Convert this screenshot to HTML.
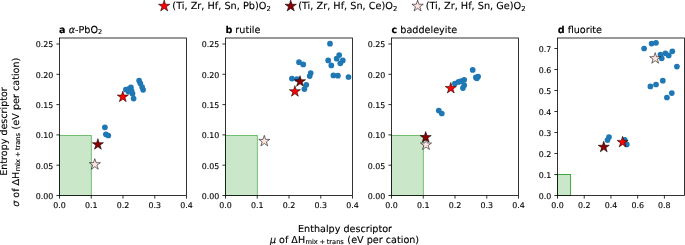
<!DOCTYPE html>
<html><head><meta charset="utf-8"><title>figure</title>
<style>html,body{margin:0;padding:0;background:#fff}svg{display:block;will-change:transform}text{font-family:"DejaVu Sans","Liberation Sans",sans-serif;fill:#000;stroke:#000;stroke-width:0.12px;text-rendering:geometricPrecision}</style>
</head><body>
<svg width="685" height="245" viewBox="0 0 685 245">
<rect width="685" height="245" fill="#fff"/>
<rect x="59.50" y="135.35" width="31.75" height="60.15" fill="#2ca02c" fill-opacity="0.25" stroke="#2ca02c" stroke-opacity="0.95" stroke-width="0.65"/>
<circle cx="139.1" cy="80.5" r="2.85" fill="#1f77b4"/>
<circle cx="140.3" cy="83.3" r="2.85" fill="#1f77b4"/>
<circle cx="142.1" cy="87.1" r="2.85" fill="#1f77b4"/>
<circle cx="143.1" cy="89.8" r="2.85" fill="#1f77b4"/>
<circle cx="130.9" cy="87.4" r="2.85" fill="#1f77b4"/>
<circle cx="125.9" cy="89.5" r="2.85" fill="#1f77b4"/>
<circle cx="128.4" cy="89.2" r="2.85" fill="#1f77b4"/>
<circle cx="128.4" cy="91.6" r="2.85" fill="#1f77b4"/>
<circle cx="131.6" cy="90.8" r="2.85" fill="#1f77b4"/>
<circle cx="132.5" cy="93.7" r="2.85" fill="#1f77b4"/>
<circle cx="133.6" cy="98.6" r="2.85" fill="#1f77b4"/>
<circle cx="104.9" cy="127.3" r="2.85" fill="#1f77b4"/>
<circle cx="105.9" cy="134.3" r="2.85" fill="#1f77b4"/>
<circle cx="108.3" cy="135.5" r="2.85" fill="#1f77b4"/>
<polygon points="94.80,158.65 96.11,162.69 100.36,162.69 96.93,165.19 98.24,169.23 94.80,166.73 91.36,169.23 92.67,165.19 89.24,162.69 93.49,162.69" fill="#ffe4e1" stroke="#000" stroke-width="0.55" stroke-linejoin="miter"/>
<polygon points="97.90,138.65 99.21,142.69 103.46,142.69 100.03,145.19 101.34,149.23 97.90,146.73 94.46,149.23 95.77,145.19 92.34,142.69 96.59,142.69" fill="#8b0000" stroke="#000" stroke-width="0.55" stroke-linejoin="miter"/>
<polygon points="122.80,91.05 124.11,95.09 128.36,95.09 124.93,97.59 126.24,101.63 122.80,99.13 119.36,101.63 120.67,97.59 117.24,95.09 121.49,95.09" fill="#ff0000" stroke="#000" stroke-width="0.55" stroke-linejoin="miter"/>
<rect x="59.50" y="38.00" width="127.00" height="157.50" fill="none" stroke="#000" stroke-width="0.8"/>
<line x1="59.50" y1="195.50" x2="59.50" y2="198.60" stroke="#000" stroke-width="0.8"/>
<text x="59.50" y="207.75" font-size="7.9" text-anchor="middle">0.0</text>
<line x1="91.25" y1="195.50" x2="91.25" y2="198.60" stroke="#000" stroke-width="0.8"/>
<text x="91.25" y="207.75" font-size="7.9" text-anchor="middle">0.1</text>
<line x1="123.00" y1="195.50" x2="123.00" y2="198.60" stroke="#000" stroke-width="0.8"/>
<text x="123.00" y="207.75" font-size="7.9" text-anchor="middle">0.2</text>
<line x1="154.75" y1="195.50" x2="154.75" y2="198.60" stroke="#000" stroke-width="0.8"/>
<text x="154.75" y="207.75" font-size="7.9" text-anchor="middle">0.3</text>
<line x1="186.50" y1="195.50" x2="186.50" y2="198.60" stroke="#000" stroke-width="0.8"/>
<text x="186.50" y="207.75" font-size="7.9" text-anchor="middle">0.4</text>
<line x1="56.40" y1="195.50" x2="59.50" y2="195.50" stroke="#000" stroke-width="0.8"/>
<text x="53.30" y="198.80" font-size="7.9" text-anchor="end">0.00</text>
<line x1="56.40" y1="165.20" x2="59.50" y2="165.20" stroke="#000" stroke-width="0.8"/>
<text x="53.30" y="168.50" font-size="7.9" text-anchor="end">0.05</text>
<line x1="56.40" y1="134.90" x2="59.50" y2="134.90" stroke="#000" stroke-width="0.8"/>
<text x="53.30" y="138.20" font-size="7.9" text-anchor="end">0.10</text>
<line x1="56.40" y1="104.60" x2="59.50" y2="104.60" stroke="#000" stroke-width="0.8"/>
<text x="53.30" y="107.90" font-size="7.9" text-anchor="end">0.15</text>
<line x1="56.40" y1="74.30" x2="59.50" y2="74.30" stroke="#000" stroke-width="0.8"/>
<text x="53.30" y="77.60" font-size="7.9" text-anchor="end">0.20</text>
<line x1="56.40" y1="44.00" x2="59.50" y2="44.00" stroke="#000" stroke-width="0.8"/>
<text x="53.30" y="47.30" font-size="7.9" text-anchor="end">0.25</text>
<text x="59.10" y="32.8" font-size="9.65"><tspan font-weight="bold">a</tspan> <tspan font-style="italic">α</tspan>-PbO<tspan font-size="6.7" dy="1.6">2</tspan></text>
<rect x="225.50" y="135.35" width="31.75" height="60.15" fill="#2ca02c" fill-opacity="0.25" stroke="#2ca02c" stroke-opacity="0.95" stroke-width="0.65"/>
<circle cx="330.0" cy="43.7" r="2.85" fill="#1f77b4"/>
<circle cx="339.2" cy="55.1" r="2.85" fill="#1f77b4"/>
<circle cx="336.7" cy="58.7" r="2.85" fill="#1f77b4"/>
<circle cx="342.8" cy="60.4" r="2.85" fill="#1f77b4"/>
<circle cx="340.3" cy="63.3" r="2.85" fill="#1f77b4"/>
<circle cx="328.2" cy="60.4" r="2.85" fill="#1f77b4"/>
<circle cx="331.3" cy="65.4" r="2.85" fill="#1f77b4"/>
<circle cx="299.0" cy="62.2" r="2.85" fill="#1f77b4"/>
<circle cx="303.2" cy="64.4" r="2.85" fill="#1f77b4"/>
<circle cx="310.7" cy="73.0" r="2.85" fill="#1f77b4"/>
<circle cx="309.7" cy="76.1" r="2.85" fill="#1f77b4"/>
<circle cx="333.4" cy="75.4" r="2.85" fill="#1f77b4"/>
<circle cx="337.9" cy="75.7" r="2.85" fill="#1f77b4"/>
<circle cx="348.5" cy="77.0" r="2.85" fill="#1f77b4"/>
<circle cx="291.9" cy="78.6" r="2.85" fill="#1f77b4"/>
<circle cx="296.9" cy="79.0" r="2.85" fill="#1f77b4"/>
<circle cx="306.3" cy="84.8" r="2.85" fill="#1f77b4"/>
<circle cx="304.4" cy="89.1" r="2.85" fill="#1f77b4"/>
<polygon points="264.30,135.35 265.61,139.39 269.86,139.39 266.43,141.89 267.74,145.93 264.30,143.43 260.86,145.93 262.17,141.89 258.74,139.39 262.99,139.39" fill="#ffe4e1" stroke="#000" stroke-width="0.55" stroke-linejoin="miter"/>
<polygon points="294.90,85.65 296.21,89.69 300.46,89.69 297.03,92.19 298.34,96.23 294.90,93.73 291.46,96.23 292.77,92.19 289.34,89.69 293.59,89.69" fill="#ff0000" stroke="#000" stroke-width="0.55" stroke-linejoin="miter"/>
<polygon points="300.00,75.65 301.31,79.69 305.56,79.69 302.13,82.19 303.44,86.23 300.00,83.73 296.56,86.23 297.87,82.19 294.44,79.69 298.69,79.69" fill="#8b0000" stroke="#000" stroke-width="0.55" stroke-linejoin="miter"/>
<rect x="225.50" y="38.00" width="127.00" height="157.50" fill="none" stroke="#000" stroke-width="0.8"/>
<line x1="225.50" y1="195.50" x2="225.50" y2="198.60" stroke="#000" stroke-width="0.8"/>
<text x="225.50" y="207.75" font-size="7.9" text-anchor="middle">0.0</text>
<line x1="257.25" y1="195.50" x2="257.25" y2="198.60" stroke="#000" stroke-width="0.8"/>
<text x="257.25" y="207.75" font-size="7.9" text-anchor="middle">0.1</text>
<line x1="289.00" y1="195.50" x2="289.00" y2="198.60" stroke="#000" stroke-width="0.8"/>
<text x="289.00" y="207.75" font-size="7.9" text-anchor="middle">0.2</text>
<line x1="320.75" y1="195.50" x2="320.75" y2="198.60" stroke="#000" stroke-width="0.8"/>
<text x="320.75" y="207.75" font-size="7.9" text-anchor="middle">0.3</text>
<line x1="352.50" y1="195.50" x2="352.50" y2="198.60" stroke="#000" stroke-width="0.8"/>
<text x="352.50" y="207.75" font-size="7.9" text-anchor="middle">0.4</text>
<line x1="222.40" y1="195.50" x2="225.50" y2="195.50" stroke="#000" stroke-width="0.8"/>
<text x="219.30" y="198.80" font-size="7.9" text-anchor="end">0.00</text>
<line x1="222.40" y1="165.20" x2="225.50" y2="165.20" stroke="#000" stroke-width="0.8"/>
<text x="219.30" y="168.50" font-size="7.9" text-anchor="end">0.05</text>
<line x1="222.40" y1="134.90" x2="225.50" y2="134.90" stroke="#000" stroke-width="0.8"/>
<text x="219.30" y="138.20" font-size="7.9" text-anchor="end">0.10</text>
<line x1="222.40" y1="104.60" x2="225.50" y2="104.60" stroke="#000" stroke-width="0.8"/>
<text x="219.30" y="107.90" font-size="7.9" text-anchor="end">0.15</text>
<line x1="222.40" y1="74.30" x2="225.50" y2="74.30" stroke="#000" stroke-width="0.8"/>
<text x="219.30" y="77.60" font-size="7.9" text-anchor="end">0.20</text>
<line x1="222.40" y1="44.00" x2="225.50" y2="44.00" stroke="#000" stroke-width="0.8"/>
<text x="219.30" y="47.30" font-size="7.9" text-anchor="end">0.25</text>
<text x="225.40" y="32.8" font-size="9.65"><tspan font-weight="bold">b</tspan> rutile</text>
<rect x="391.50" y="135.35" width="31.75" height="60.15" fill="#2ca02c" fill-opacity="0.25" stroke="#2ca02c" stroke-opacity="0.95" stroke-width="0.65"/>
<circle cx="472.7" cy="69.9" r="2.85" fill="#1f77b4"/>
<circle cx="475.9" cy="77.4" r="2.85" fill="#1f77b4"/>
<circle cx="478.1" cy="76.6" r="2.85" fill="#1f77b4"/>
<circle cx="476.9" cy="78.3" r="2.85" fill="#1f77b4"/>
<circle cx="464.2" cy="79.8" r="2.85" fill="#1f77b4"/>
<circle cx="461.2" cy="81.1" r="2.85" fill="#1f77b4"/>
<circle cx="458.5" cy="81.9" r="2.85" fill="#1f77b4"/>
<circle cx="454.9" cy="83.6" r="2.85" fill="#1f77b4"/>
<circle cx="464.2" cy="85.2" r="2.85" fill="#1f77b4"/>
<circle cx="462.9" cy="88.1" r="2.85" fill="#1f77b4"/>
<circle cx="438.8" cy="110.6" r="2.85" fill="#1f77b4"/>
<circle cx="441.8" cy="113.5" r="2.85" fill="#1f77b4"/>
<polygon points="426.00,138.95 427.31,142.99 431.56,142.99 428.13,145.49 429.44,149.53 426.00,147.03 422.56,149.53 423.87,145.49 420.44,142.99 424.69,142.99" fill="#ffe4e1" stroke="#000" stroke-width="0.55" stroke-linejoin="miter"/>
<polygon points="425.70,131.55 427.01,135.59 431.26,135.59 427.83,138.09 429.14,142.13 425.70,139.63 422.26,142.13 423.57,138.09 420.14,135.59 424.39,135.59" fill="#8b0000" stroke="#000" stroke-width="0.55" stroke-linejoin="miter"/>
<polygon points="450.80,82.45 452.11,86.49 456.36,86.49 452.93,88.99 454.24,93.03 450.80,90.53 447.36,93.03 448.67,88.99 445.24,86.49 449.49,86.49" fill="#ff0000" stroke="#000" stroke-width="0.55" stroke-linejoin="miter"/>
<rect x="391.50" y="38.00" width="127.00" height="157.50" fill="none" stroke="#000" stroke-width="0.8"/>
<line x1="391.50" y1="195.50" x2="391.50" y2="198.60" stroke="#000" stroke-width="0.8"/>
<text x="391.50" y="207.75" font-size="7.9" text-anchor="middle">0.0</text>
<line x1="423.25" y1="195.50" x2="423.25" y2="198.60" stroke="#000" stroke-width="0.8"/>
<text x="423.25" y="207.75" font-size="7.9" text-anchor="middle">0.1</text>
<line x1="455.00" y1="195.50" x2="455.00" y2="198.60" stroke="#000" stroke-width="0.8"/>
<text x="455.00" y="207.75" font-size="7.9" text-anchor="middle">0.2</text>
<line x1="486.75" y1="195.50" x2="486.75" y2="198.60" stroke="#000" stroke-width="0.8"/>
<text x="486.75" y="207.75" font-size="7.9" text-anchor="middle">0.3</text>
<line x1="518.50" y1="195.50" x2="518.50" y2="198.60" stroke="#000" stroke-width="0.8"/>
<text x="518.50" y="207.75" font-size="7.9" text-anchor="middle">0.4</text>
<line x1="388.40" y1="195.50" x2="391.50" y2="195.50" stroke="#000" stroke-width="0.8"/>
<text x="385.30" y="198.80" font-size="7.9" text-anchor="end">0.00</text>
<line x1="388.40" y1="165.20" x2="391.50" y2="165.20" stroke="#000" stroke-width="0.8"/>
<text x="385.30" y="168.50" font-size="7.9" text-anchor="end">0.05</text>
<line x1="388.40" y1="134.90" x2="391.50" y2="134.90" stroke="#000" stroke-width="0.8"/>
<text x="385.30" y="138.20" font-size="7.9" text-anchor="end">0.10</text>
<line x1="388.40" y1="104.60" x2="391.50" y2="104.60" stroke="#000" stroke-width="0.8"/>
<text x="385.30" y="107.90" font-size="7.9" text-anchor="end">0.15</text>
<line x1="388.40" y1="74.30" x2="391.50" y2="74.30" stroke="#000" stroke-width="0.8"/>
<text x="385.30" y="77.60" font-size="7.9" text-anchor="end">0.20</text>
<line x1="388.40" y1="44.00" x2="391.50" y2="44.00" stroke="#000" stroke-width="0.8"/>
<text x="385.30" y="47.30" font-size="7.9" text-anchor="end">0.25</text>
<text x="391.55" y="32.8" font-size="9.65"><tspan font-weight="bold">c</tspan> baddeleyite</text>
<rect x="557.50" y="174.50" width="13.11" height="21.00" fill="#2ca02c" fill-opacity="0.25" stroke="#2ca02c" stroke-opacity="1.0" stroke-width="0.9"/>
<circle cx="651.6" cy="43.6" r="2.85" fill="#1f77b4"/>
<circle cx="656.0" cy="42.8" r="2.85" fill="#1f77b4"/>
<circle cx="644.1" cy="48.5" r="2.85" fill="#1f77b4"/>
<circle cx="672.3" cy="51.3" r="2.85" fill="#1f77b4"/>
<circle cx="665.4" cy="53.3" r="2.85" fill="#1f77b4"/>
<circle cx="660.5" cy="54.6" r="2.85" fill="#1f77b4"/>
<circle cx="668.7" cy="55.4" r="2.85" fill="#1f77b4"/>
<circle cx="661.7" cy="58.3" r="2.85" fill="#1f77b4"/>
<circle cx="676.9" cy="66.6" r="2.85" fill="#1f77b4"/>
<circle cx="662.8" cy="80.7" r="2.85" fill="#1f77b4"/>
<circle cx="656.0" cy="84.5" r="2.85" fill="#1f77b4"/>
<circle cx="650.4" cy="86.4" r="2.85" fill="#1f77b4"/>
<circle cx="671.8" cy="93.1" r="2.85" fill="#1f77b4"/>
<circle cx="666.9" cy="97.5" r="2.85" fill="#1f77b4"/>
<circle cx="609.0" cy="137.0" r="2.85" fill="#1f77b4"/>
<circle cx="607.5" cy="140.1" r="2.85" fill="#1f77b4"/>
<circle cx="624.7" cy="139.9" r="2.85" fill="#1f77b4"/>
<circle cx="626.8" cy="144.4" r="2.85" fill="#1f77b4"/>
<polygon points="655.20,52.65 656.51,56.69 660.76,56.69 657.33,59.19 658.64,63.23 655.20,60.73 651.76,63.23 653.07,59.19 649.64,56.69 653.89,56.69" fill="#ffe4e1" stroke="#000" stroke-width="0.55" stroke-linejoin="miter"/>
<polygon points="603.75,141.25 605.06,145.29 609.31,145.29 605.88,147.79 607.19,151.83 603.75,149.33 600.31,151.83 601.62,147.79 598.19,145.29 602.44,145.29" fill="#8b0000" stroke="#000" stroke-width="0.55" stroke-linejoin="miter"/>
<polygon points="622.60,136.35 623.91,140.39 628.16,140.39 624.73,142.89 626.04,146.93 622.60,144.43 619.16,146.93 620.47,142.89 617.04,140.39 621.29,140.39" fill="#ff0000" stroke="#000" stroke-width="0.55" stroke-linejoin="miter"/>
<rect x="557.50" y="38.00" width="127.00" height="157.50" fill="none" stroke="#000" stroke-width="0.8"/>
<line x1="557.50" y1="195.50" x2="557.50" y2="198.60" stroke="#000" stroke-width="0.8"/>
<text x="557.50" y="207.75" font-size="7.9" text-anchor="middle">0.0</text>
<line x1="584.22" y1="195.50" x2="584.22" y2="198.60" stroke="#000" stroke-width="0.8"/>
<text x="584.22" y="207.75" font-size="7.9" text-anchor="middle">0.2</text>
<line x1="610.94" y1="195.50" x2="610.94" y2="198.60" stroke="#000" stroke-width="0.8"/>
<text x="610.94" y="207.75" font-size="7.9" text-anchor="middle">0.4</text>
<line x1="637.66" y1="195.50" x2="637.66" y2="198.60" stroke="#000" stroke-width="0.8"/>
<text x="637.66" y="207.75" font-size="7.9" text-anchor="middle">0.6</text>
<line x1="664.38" y1="195.50" x2="664.38" y2="198.60" stroke="#000" stroke-width="0.8"/>
<text x="664.38" y="207.75" font-size="7.9" text-anchor="middle">0.8</text>
<line x1="554.40" y1="195.50" x2="557.50" y2="195.50" stroke="#000" stroke-width="0.8"/>
<text x="551.30" y="198.80" font-size="7.9" text-anchor="end">0.0</text>
<line x1="554.40" y1="174.50" x2="557.50" y2="174.50" stroke="#000" stroke-width="0.8"/>
<text x="551.30" y="177.80" font-size="7.9" text-anchor="end">0.1</text>
<line x1="554.40" y1="153.50" x2="557.50" y2="153.50" stroke="#000" stroke-width="0.8"/>
<text x="551.30" y="156.80" font-size="7.9" text-anchor="end">0.2</text>
<line x1="554.40" y1="132.50" x2="557.50" y2="132.50" stroke="#000" stroke-width="0.8"/>
<text x="551.30" y="135.80" font-size="7.9" text-anchor="end">0.3</text>
<line x1="554.40" y1="111.50" x2="557.50" y2="111.50" stroke="#000" stroke-width="0.8"/>
<text x="551.30" y="114.80" font-size="7.9" text-anchor="end">0.4</text>
<line x1="554.40" y1="90.50" x2="557.50" y2="90.50" stroke="#000" stroke-width="0.8"/>
<text x="551.30" y="93.80" font-size="7.9" text-anchor="end">0.5</text>
<line x1="554.40" y1="69.50" x2="557.50" y2="69.50" stroke="#000" stroke-width="0.8"/>
<text x="551.30" y="72.80" font-size="7.9" text-anchor="end">0.6</text>
<line x1="554.40" y1="48.50" x2="557.50" y2="48.50" stroke="#000" stroke-width="0.8"/>
<text x="551.30" y="51.80" font-size="7.9" text-anchor="end">0.7</text>
<text x="557.70" y="32.8" font-size="9.65"><tspan font-weight="bold">d</tspan> fluorite</text>
<polygon points="164.20,0.10 165.55,4.25 169.91,4.25 166.38,6.81 167.73,10.95 164.20,8.39 160.67,10.95 162.02,6.81 158.49,4.25 162.85,4.25" fill="#ff0000" stroke="#000" stroke-width="0.55" stroke-linejoin="miter"/>
<text x="172.35" y="9.0" font-size="9.72">(Ti, Zr, Hf, Sn, Pb)O<tspan font-size="6.8" dy="1.9">2</tspan></text>
<polygon points="290.70,0.10 292.05,4.25 296.41,4.25 292.88,6.81 294.23,10.95 290.70,8.39 287.17,10.95 288.52,6.81 284.99,4.25 289.35,4.25" fill="#8b0000" stroke="#000" stroke-width="0.55" stroke-linejoin="miter"/>
<text x="298.20" y="9.0" font-size="9.72">(Ti, Zr, Hf, Sn, Ce)O<tspan font-size="6.8" dy="1.9">2</tspan></text>
<polygon points="417.60,0.10 418.95,4.25 423.31,4.25 419.78,6.81 421.13,10.95 417.60,8.39 414.07,10.95 415.42,6.81 411.89,4.25 416.25,4.25" fill="#ffe4e1" stroke="#000" stroke-width="0.55" stroke-linejoin="miter"/>
<text x="425.70" y="9.0" font-size="9.72">(Ti, Zr, Hf, Sn, Ge)O<tspan font-size="6.8" dy="1.9">2</tspan></text>
<text x="345.0" y="231.9" font-size="9.62" text-anchor="middle">Enthalpy descriptor</text>
<text x="270.0" y="242.9" font-size="9.55"><tspan font-style="italic">μ</tspan> of ΔH<tspan font-size="6.7" dy="1.1" dx="0.35">mix</tspan><tspan font-size="6.7" dx="1.8">+</tspan><tspan font-size="6.7" dx="1.5">trans</tspan><tspan dy="-1.1" dx="0.45" font-size="9.65"> (eV per cation)</tspan></text>
<text transform="translate(6.8,131.5) rotate(-90)" font-size="9.55" text-anchor="middle">Entropy descriptor</text>
<text transform="translate(19.0,206.75) rotate(-90)" font-size="9.55"><tspan font-style="italic">σ</tspan> of ΔH<tspan font-size="6.7" dy="1.1" dx="0.35">mix</tspan><tspan font-size="6.7" dx="1.8">+</tspan><tspan font-size="6.7" dx="1.5">trans</tspan><tspan dy="-1.1" dx="0.45" font-size="9.65"> (eV per cation)</tspan></text>
</svg>
</body></html>
